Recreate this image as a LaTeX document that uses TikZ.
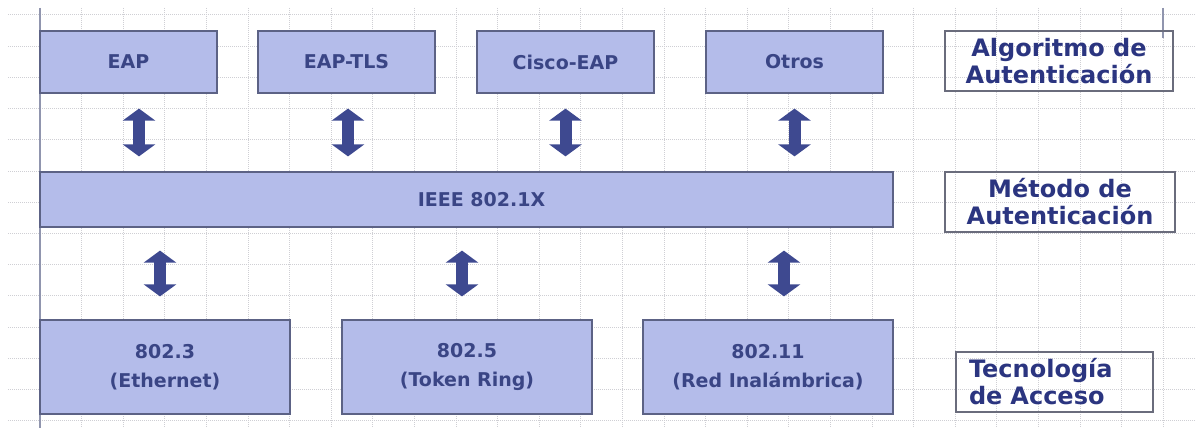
\documentclass[tikz,border=0pt]{standalone}
\usepackage{fontspec}
\setmainfont{DejaVu Sans}
\usetikzlibrary{arrows.meta}
\definecolor{boxfill}{HTML}{B4BCEA}
\definecolor{boxline}{HTML}{5C6285}
\definecolor{boxtext}{HTML}{3A4585}
\definecolor{labeltext}{HTML}{2B3580}
\definecolor{labelline}{HTML}{6A6C7C}
\definecolor{arrowfill}{HTML}{3E4990}
\definecolor{gridcol}{HTML}{CFCFD4}
\definecolor{marginline}{HTML}{9095AE}
\tikzset{
  layerbox/.style={draw=boxline, line width=1.2pt, fill=boxfill, text=boxtext,
    font=\bfseries\fontsize{19}{29}\selectfont, align=center, inner sep=0pt},
  tagbox/.style={draw=labelline, line width=1.2pt, text=labeltext,
    font=\bfseries\fontsize{24}{27}\selectfont, inner sep=0pt},
  link/.style={draw=arrowfill, line width=12pt,
    {Triangle[width=32pt,length=12pt]}-{Triangle[width=32pt,length=12pt]}},
  gridline/.style={draw=gridcol, line width=1pt, dash pattern=on 1pt off 1pt}
}
\begin{document}
\begin{tikzpicture}[x=1pt,y=-1pt]
  \useasboundingbox (0,0) rectangle (1195,428);

  % background grid of the slide
  \foreach \k in {0,...,13}
    \draw[gridline] (8,15+31.2*\k) -- (1195,15+31.2*\k);
  \foreach \k in {1,...,27}
    \draw[gridline] (40+41.6*\k,8) -- (40+41.6*\k,428);
  \draw[marginline, line width=1.2pt] (40,8) -- (40,428);
  \draw[marginline, line width=1.2pt] (1163,8) -- (1163,38);

  % authentication algorithms
  \node[layerbox, minimum width=177pt, minimum height=62pt] (eap)    at (128.5,62) {EAP};
  \node[layerbox, minimum width=177pt, minimum height=62pt] (eaptls) at (346.5,62) {EAP-TLS};
  \node[layerbox, minimum width=177pt, minimum height=62pt] (cisco)  at (565.5,62) {Cisco-EAP};
  \node[layerbox, minimum width=177pt, minimum height=62pt] (otros)  at (794.5,62) {Otros};

  % authentication method
  \node[layerbox, minimum width=853pt, minimum height=55pt] (ieee) at (466.5,199.5) {\hspace*{30pt}IEEE 802.1X};

  % access technologies
  \node[layerbox, minimum width=250pt, minimum height=94pt] (eth)  at (165,367) {802.3\\(Ethernet)};
  \node[layerbox, minimum width=250pt, minimum height=94pt] (tok)  at (467,367) {802.5\\(Token Ring)};
  \node[layerbox, minimum width=250pt, minimum height=94pt] (wifi) at (768,367) {802.11\\(Red Inalámbrica)};

  % layer captions
  \node[tagbox, minimum width=228pt, minimum height=60pt, align=center] (lalg) at (1059,61)
    {Algoritmo de\\Autenticación};
  \node[tagbox, minimum width=230pt, minimum height=60pt, align=center] (lmet) at (1060,202)
    {Método de\\Autenticación};
  \node[tagbox, minimum width=197pt, minimum height=60pt, align=left, text width=171pt] (ltec) at (1054.5,382)
    {Tecnología\\de Acceso};

  % links between algorithms and method
  \draw[link, shorten <=15pt, shorten >=15pt] ([xshift=10.5pt]eap.south) -- ([xshift=10.5pt]eap.south |- ieee.north);
  \draw[link, shorten <=15pt, shorten >=15pt] ([xshift=1.5pt]eaptls.south) -- ([xshift=1.5pt]eaptls.south |- ieee.north);
  \draw[link, shorten <=15pt, shorten >=15pt] (cisco.south) -- (cisco.south |- ieee.north);
  \draw[link, shorten <=15pt, shorten >=15pt] (otros.south) -- (otros.south |- ieee.north);

  % links between method and access technologies
  \draw[link, shorten <=23pt, shorten >=23pt] ([xshift=-5pt]eth.north |- ieee.south) -- ([xshift=-5pt]eth.north);
  \draw[link, shorten <=23pt, shorten >=23pt] ([xshift=-5pt]tok.north |- ieee.south) -- ([xshift=-5pt]tok.north);
  \draw[link, shorten <=23pt, shorten >=23pt] ([xshift=16pt]wifi.north |- ieee.south) -- ([xshift=16pt]wifi.north);
\end{tikzpicture}
\end{document}
